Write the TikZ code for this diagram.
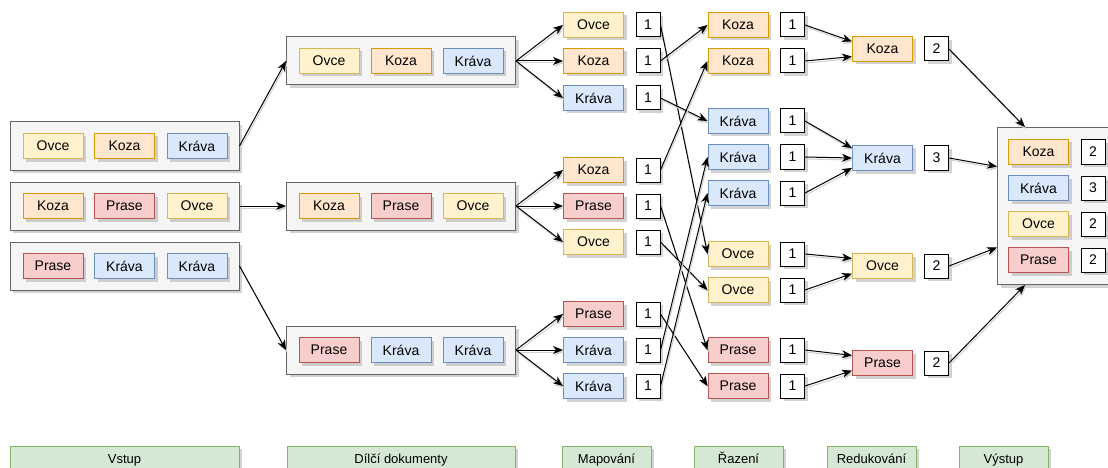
\documentclass[tikz,border=0pt]{standalone}
\usepackage{fontspec}
\setmainfont{Liberation Sans}
\usetikzlibrary{arrows.meta,shadows,calc}

\definecolor{ovcefill}{HTML}{FFF2CC}
\definecolor{ovcedraw}{HTML}{D6B656}
\definecolor{kozafill}{HTML}{FFE6CC}
\definecolor{kozadraw}{HTML}{D79B00}
\definecolor{kravafill}{HTML}{DAE8FC}
\definecolor{kravadraw}{HTML}{6C8EBF}
\definecolor{prasefill}{HTML}{F8CECC}
\definecolor{prasedraw}{HTML}{B85450}
\definecolor{stagefill}{HTML}{D5E8D4}
\definecolor{stagedraw}{HTML}{82B366}
\definecolor{docfill}{HTML}{F5F5F5}
\definecolor{docdraw}{HTML}{666666}

\tikzset{
  shade box/.style={drop shadow={shadow xshift=3pt,shadow yshift=-3pt,fill=black!35,opacity=0.5}},
  word/.style={shade box, line width=1pt, minimum width=60pt, minimum height=25pt,
    inner sep=0pt, font=\fontsize{14}{16}\selectfont},
  ovce/.style={word, fill=ovcefill, draw=ovcedraw},
  koza/.style={word, fill=kozafill, draw=kozadraw},
  krava/.style={word, fill=kravafill, draw=kravadraw},
  prase/.style={word, fill=prasefill, draw=prasedraw},
  tally/.style={shade box, draw=black, fill=white, line width=1pt, minimum size=24pt,
    inner sep=0pt, font=\fontsize{14}{16}\selectfont},
  docbox/.style={shade box, draw=docdraw, fill=docfill, line width=1pt,
    minimum width=229pt, minimum height=48pt},
  stagebox/.style={shade box, draw=stagedraw, fill=stagefill, line width=1pt,
    minimum height=26pt, inner sep=0pt, text height=10pt, text depth=2pt,
    font=\fontsize{13}{15}\selectfont},
  link/.style={line width=1pt, -{Stealth[length=10pt,width=8pt,inset=3pt]},
    preaction={draw=black!18, line width=1pt, transform canvas={xshift=1pt,yshift=-2pt}}}
}

\begin{document}
\begin{tikzpicture}[x=1pt,y=-1pt]
  \useasboundingbox (0,0) rectangle (1108,468);

  % Vstup
  \foreach \n/\y in {1/146, 2/206, 3/266}
    \node[docbox] (in\n) at (124.5,\y) {};
  \node[ovce] (in1a) at (53,146) {Ovce};
  \node[koza] (in1b) at (124.5,146) {Koza};
  \node[krava] (in1c) at (197,146) {Kráva};
  \node[koza] (in2a) at (53,206) {Koza};
  \node[prase] (in2b) at (124.5,206) {Prase};
  \node[ovce] (in2c) at (197,206) {Ovce};
  \node[prase] (in3a) at (53,266) {Prase};
  \node[krava] (in3b) at (124.5,266) {Kráva};
  \node[krava] (in3c) at (197,266) {Kráva};

  % Dilci dokumenty
  \foreach \n/\y in {1/61, 2/206, 3/350}
    \node[docbox] (dd\n) at (401,\y) {};
  \node[ovce] (dd1a) at (329,61) {Ovce};
  \node[koza] (dd1b) at (401,61) {Koza};
  \node[krava] (dd1c) at (473,61) {Kráva};
  \node[koza] (dd2a) at (329,206) {Koza};
  \node[prase] (dd2b) at (401,206) {Prase};
  \node[ovce] (dd2c) at (473,206) {Ovce};
  \node[prase] (dd3a) at (329,350) {Prase};
  \node[krava] (dd3b) at (401,350) {Kráva};
  \node[krava] (dd3c) at (473,350) {Kráva};

  % Mapovani
  \foreach \n/\s/\w/\y in {1/ovce/Ovce/25, 2/koza/Koza/61, 3/krava/Kráva/98,
      4/koza/Koza/170, 5/prase/Prase/206, 6/ovce/Ovce/242,
      7/prase/Prase/314, 8/krava/Kráva/350, 9/krava/Kráva/386} {
    \node[\s] (m\n) at (593.5,\y) {\w};
    \node[tally] (mc\n) at (648,\y) {1};
  }

  % Razeni
  \foreach \n/\s/\w/\y in {1/koza/Koza/25, 2/koza/Koza/61, 3/krava/Kráva/121,
      4/krava/Kráva/157, 5/krava/Kráva/193, 6/ovce/Ovce/254,
      7/ovce/Ovce/290, 8/prase/Prase/350, 9/prase/Prase/386} {
    \node[\s] (s\n) at (738,\y) {\w};
    \node[tally] (sc\n) at (792.5,\y) {1};
  }

  % Redukovani
  \foreach \n/\s/\w/\k/\y in {1/koza/Koza/2/49, 2/krava/Kráva/3/158,
      3/ovce/Ovce/2/266, 4/prase/Prase/2/363} {
    \node[\s] (r\n) at (882.5,\y) {\w};
    \node[tally] (rc\n) at (936.5,\y) {\k};
  }

  % Vystup
  \node[docbox, anchor=north west, minimum width=130pt, minimum height=157pt] (out) at (997,127) {};
  \foreach \n/\s/\w/\k/\y in {1/koza/Koza/2/152, 2/krava/Kráva/3/188,
      3/ovce/Ovce/2/224, 4/prase/Prase/2/260} {
    \node[\s] (o\n) at (1038.5,\y) {\w};
    \node[tally] (oc\n) at (1093,\y) {\k};
  }

  % spojnice
  \foreach \n in {1,2,3}
    \draw[link] (in\n.east) -- (dd\n.west);
  \foreach \g/\a/\b/\c in {1/1/2/3, 2/4/5/6, 3/7/8/9} {
    \draw[link] (dd\g.east) -- (m\a.west);
    \draw[link] (dd\g.east) -- (m\b.west);
    \draw[link] (dd\g.east) -- (m\c.west);
  }
  \foreach \a/\b in {1/6, 2/1, 3/3, 4/2, 5/8, 6/7, 7/9, 8/4, 9/5}
    \draw[link] (mc\a.east) -- (s\b.west);
  \draw[link] (sc1.east) -- (r1.166);
  \draw[link] (sc2.east) -- (r1.194);
  \draw[link] (sc3.east) -- (r2.162);
  \draw[link] (sc4.east) -- (r2.west);
  \draw[link] (sc5.east) -- (r2.198);
  \draw[link] (sc6.east) -- (r3.166);
  \draw[link] (sc7.east) -- (r3.194);
  \draw[link] (sc8.east) -- (r4.166);
  \draw[link] (sc9.east) -- (r4.194);
  \draw[link] (rc1.east) -- ($(out.north west)+(28,0)$);
  \draw[link] (rc2.east) -- ($(out.west)+(0,-39.5)$);
  \draw[link] (rc3.east) -- ($(out.west)+(0,41.5)$);
  \draw[link] (rc4.east) -- ($(out.south west)+(28,0)$);

  % popisky
  \node[stagebox, minimum width=229pt] (st1) at (124.5,459) {Vstup};
  \node[stagebox, minimum width=228pt] (st2) at (401,459) {Dílčí dokumenty};
  \node[stagebox, minimum width=89pt] (st3) at (606.5,459) {Mapování};
  \node[stagebox, minimum width=89pt] (st4) at (738.5,459) {Řazení};
  \node[stagebox, minimum width=89pt] (st5) at (871.5,459) {Redukování};
  \node[stagebox, minimum width=89pt] (st6) at (1003.5,459) {Výstup};
\end{tikzpicture}
\end{document}
